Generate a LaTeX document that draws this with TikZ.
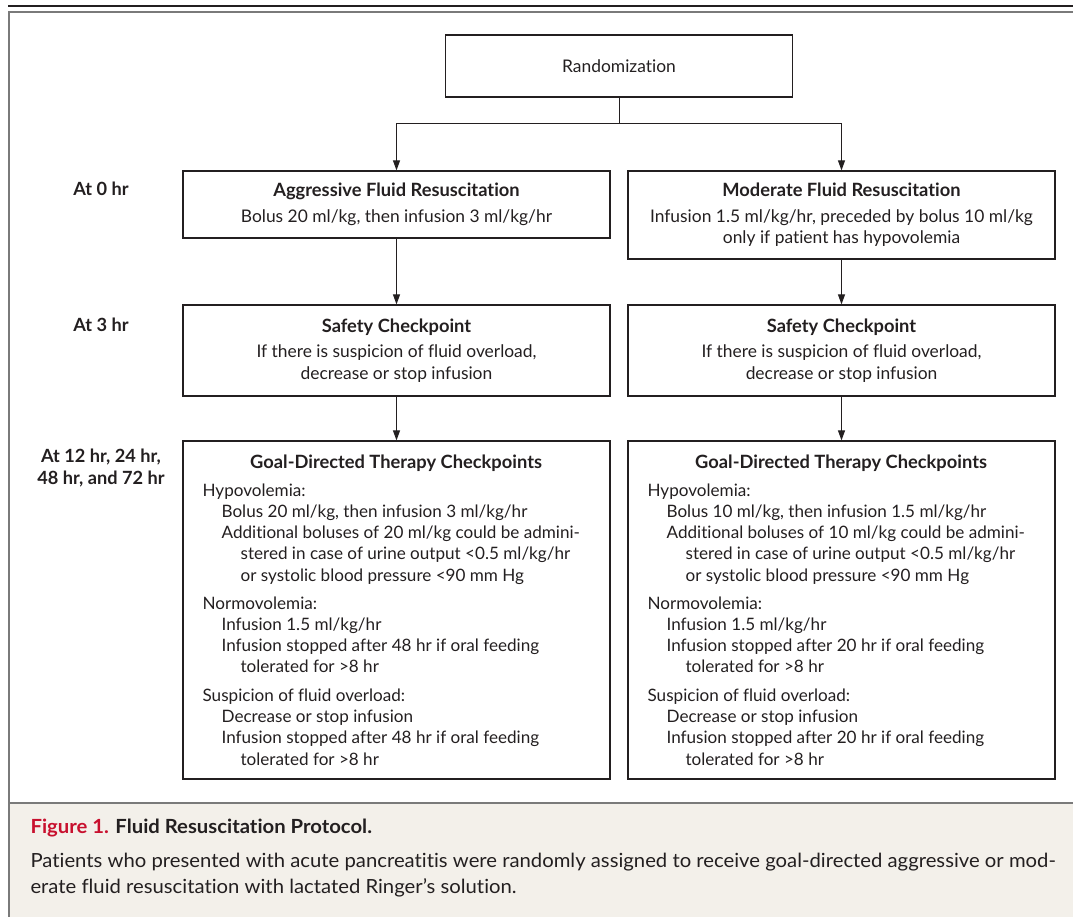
\documentclass[tikz,border=0pt]{standalone}
\usepackage{fontspec}
\setmainfont{Lato}[Ligatures=NoCommon]
\newfontfamily\capfont[FakeStretch=1.04,Ligatures=NoCommon]{Lato}
\usepackage{xcolor}
\usetikzlibrary{arrows.meta}

\definecolor{ink}{HTML}{231F20}
\definecolor{framegray}{HTML}{7A7A7A}
\definecolor{capbg}{HTML}{F3F0EA}
\definecolor{figred}{HTML}{C8102E}

\newcommand{\boxtitle}[1]{{\fontsize{18.3}{21.5}\selectfont\bfseries #1}}

\begin{document}
\begin{tikzpicture}[x=1pt,y=-1pt,text=ink,
  font=\fontsize{17.4}{21.5}\selectfont,
  box/.style={draw=ink,line width=1.2pt,minimum width=427pt,inner sep=0pt,align=center},
  goalbox/.style={draw=ink,line width=1.2pt,minimum width=427pt,minimum height=338pt,inner sep=0pt},
  goaltext/.style={anchor=north west,inner sep=0pt,align=left,
    font=\fontsize{17.1}{21.2}\selectfont},
  arr/.style={draw=ink,line width=1pt,-{Triangle[length=10pt,width=7pt]}},
  timelabel/.style={font=\fontsize{18.2}{21.5}\selectfont\bfseries,align=center},
  capline/.style={anchor=west,align=left,font=\capfont\fontsize{19.5}{26}\selectfont}]
  \useasboundingbox (0,0) rectangle (1073,917);

  % frame and caption panel
  \fill[capbg] (9,803) rectangle (1073,917);
  \draw[framegray,line width=2pt] (1073,12) -- (9,12) -- (9,917);
  \draw[framegray,line width=2.5pt] (9,803) -- (1073,803);
  \draw[ink,line width=1.2pt] (8,6) -- (1073,6);

  \node[box,minimum width=347pt,minimum height=62pt] (rand) at (619,66) {Randomization};

  \node[timelabel] (t0) at (101,189) {At 0 hr};
  \node[timelabel] (t3) at (101,325) {At 3 hr};
  \node[timelabel] (t12) at (101,468) {At 12 hr, 24 hr,\\48 hr, and 72 hr};

  \node[box,minimum height=67pt] (aggr) at (396.5,204.5)
    {\boxtitle{Aggressive Fluid Resuscitation}\\[4pt]
     Bolus 20 ml/kg, then infusion 3 ml/kg/hr};
  \node[box,minimum height=88pt] (mod) at (841.5,215)
    {\boxtitle{Moderate Fluid Resuscitation}\\[4pt]
     Infusion 1.5 ml/kg/hr, preceded by bolus 10 ml/kg\\
     only if patient has hypovolemia};

  \node[box,minimum height=91pt] (safeA) at (396.5,350.5)
    {\boxtitle{Safety Checkpoint}\\[4pt]
     If there is suspicion of fluid overload,\\
     decrease or stop infusion};
  \node[box,minimum height=91pt] (safeB) at (841.5,350.5)
    {\boxtitle{Safety Checkpoint}\\[4pt]
     If there is suspicion of fluid overload,\\
     decrease or stop infusion};

  \node[goalbox] (goalA) at (396.5,610) {};
  \node[goalbox] (goalB) at (841.5,610) {};
  \node[goaltext] (goalAtext) at ([xshift=20pt,yshift=-14pt]goalA.north west)
    {\makebox[387pt]{\boxtitle{Goal-Directed Therapy Checkpoints}}\\[6.8pt]
     Hypovolemia:\\
     \hspace*{19pt}Bolus 20 ml/kg, then infusion 3 ml/kg/hr\\
     \hspace*{19pt}Additional boluses of 20 ml/kg could be admini-\\
     \hspace*{38pt}stered in case of urine output <0.5 ml/kg/hr\\
     \hspace*{38pt}or systolic blood pressure <90 mm Hg\\[7pt]
     Normovolemia:\\
     \hspace*{19pt}Infusion 1.5 ml/kg/hr\\
     \hspace*{19pt}Infusion stopped after 48 hr if oral feeding\\
     \hspace*{38pt}tolerated for >8 hr\\[7.5pt]
     Suspicion of fluid overload:\\
     \hspace*{19pt}Decrease or stop infusion\\
     \hspace*{19pt}Infusion stopped after 48 hr if oral feeding\\
     \hspace*{38pt}tolerated for >8 hr};
  \node[goaltext] (goalBtext) at ([xshift=20pt,yshift=-14pt]goalB.north west)
    {\makebox[387pt]{\boxtitle{Goal-Directed Therapy Checkpoints}}\\[6.8pt]
     Hypovolemia:\\
     \hspace*{19pt}Bolus 10 ml/kg, then infusion 1.5 ml/kg/hr\\
     \hspace*{19pt}Additional boluses of 10 ml/kg could be admini-\\
     \hspace*{38pt}stered in case of urine output <0.5 ml/kg/hr\\
     \hspace*{38pt}or systolic blood pressure <90 mm Hg\\[7pt]
     Normovolemia:\\
     \hspace*{19pt}Infusion 1.5 ml/kg/hr\\
     \hspace*{19pt}Infusion stopped after 20 hr if oral feeding\\
     \hspace*{38pt}tolerated for >8 hr\\[7.5pt]
     Suspicion of fluid overload:\\
     \hspace*{19pt}Decrease or stop infusion\\
     \hspace*{19pt}Infusion stopped after 20 hr if oral feeding\\
     \hspace*{38pt}tolerated for >8 hr};

  \draw[ink,line width=1pt] (rand.south) -- ++(0,26) coordinate (split);
  \draw[arr] (split) -| (aggr.north);
  \draw[arr] (split) -| (mod.north);
  \draw[arr] (aggr.south) -- (safeA.north);
  \draw[arr] (mod.south) -- (safeB.north);
  \draw[arr] (safeA.south) -- (goalA.north);
  \draw[arr] (safeB.south) -- (goalB.north);

  \node[capline] (captitle) at (27,828)
    {\bfseries\textcolor{figred}{Figure 1.} Fluid Resuscitation Protocol.};
  \node[capline] (captext) at (27,875)
    {Patients who presented with acute pancreatitis were randomly assigned to receive goal-directed aggressive or mod-\\
     erate fluid resuscitation with lactated Ringer’s solution.};
\end{tikzpicture}
\end{document}
